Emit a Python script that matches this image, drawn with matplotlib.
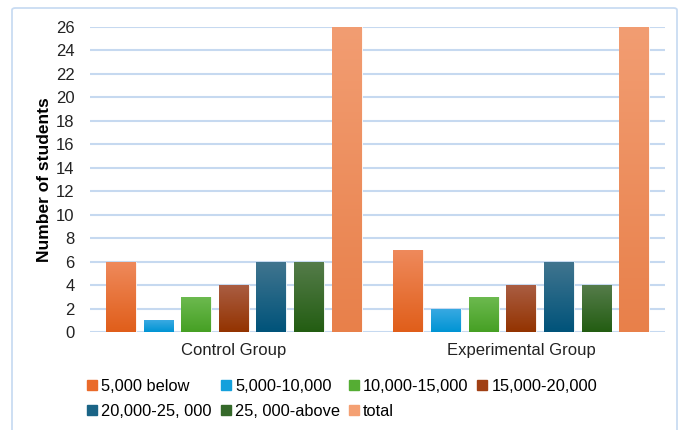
import numpy as np
import matplotlib
matplotlib.use("Agg")
import matplotlib.pyplot as plt
from matplotlib.colors import LinearSegmentedColormap
from matplotlib.lines import Line2D
from matplotlib.patches import FancyBboxPatch

plt.rcParams['font.family'] = ['Liberation Sans', 'DejaVu Sans']

groups = ["Control Group", "Experimental Group"]
series = ["5,000 below", "5,000-10,000", "10,000-15,000", "15,000-20,000",
          "20,000-25, 000", "25, 000-above", "total"]
control = [6, 1, 3, 4, 6, 6, 26]
experimental = [7, 2, 3, 4, 6, 4, 26]
yticks = list(range(0, 27, 2))

# top / bottom shades of each series' gradient fill, plus the legend swatch colour
shades = [
    ("#ef8a5c", "#e05e1a", "#ea6a2a"),
    ("#3aaae2", "#0094d4", "#14a0dc"),
    ("#6dba50", "#46a024", "#55ad33"),
    ("#aa5d42", "#933300", "#a03f14"),
    ("#41758f", "#00537a", "#1a6486"),
    ("#557c4a", "#235d12", "#35692a"),
    ("#f29d72", "#e8804a", "#f4a073"),
]

fig = plt.figure(figsize=(6.83, 4.30), dpi=100)
fig.patch.set_facecolor("white")

# outer chart frame
frame = FancyBboxPatch((12 / 683, -0.05), 665 / 683, (430 - 8) / 430 + 0.05,
                       boxstyle="round,pad=0,rounding_size=0.005",
                       transform=fig.transFigure, facecolor="none",
                       edgecolor="#c9dcf2", linewidth=1.3)
fig.patches.append(frame)

ax = fig.add_axes([90 / 683, 1 - 332 / 430, 575 / 683, (332 - 27) / 430])

step = 0.1308
width = 0.104
x = np.arange(len(groups))
values = np.array([control, experimental])

for i, name in enumerate(series):
    pos = x + (i - 3) * step
    bars = ax.bar(pos, values[:, i], width=width, color=shades[i][2],
                  edgecolor="#ffffff", linewidth=0.6, zorder=3)
    cmap = LinearSegmentedColormap.from_list(name, [shades[i][1], shades[i][0]])
    for b in bars:
        x0, h = b.get_x(), b.get_height()
        grad = np.linspace(0, 1, 128).reshape(-1, 1)
        im = ax.imshow(grad, extent=[x0, x0 + b.get_width(), 0, h], origin="lower",
                       aspect="auto", cmap=cmap, zorder=3.5, interpolation="bicubic")
        im.set_clip_path(b)

ax.set_xlim(-0.5, 1.5)
ax.set_ylim(0, 26)
ax.set_yticks(yticks)
ax.set_xticks(x)
ax.set_xticklabels(groups, fontsize=12, color="#222222")
ax.tick_params(axis="both", length=0, labelsize=12, colors="#222222")
ax.tick_params(axis="y", pad=11)
ax.tick_params(axis="x", pad=8)
ax.yaxis.grid(True, color="#c6d9f0", linewidth=1.5, zorder=0)
ax.set_axisbelow(True)
for s in ax.spines.values():
    s.set_visible(False)
ax.set_ylabel("Number of students", fontsize=12.5, fontweight="bold")
ax.yaxis.set_label_coords(-0.066, 0.5)

handles = [Line2D([], [], linestyle="none", marker="s", markersize=6.5,
                  markerfacecolor=c[2], markeredgecolor=c[2]) for c in shades]
order = [0, 4, 1, 5, 2, 6, 3]
fig.legend([handles[k] for k in order], [series[k] for k in order],
           ncol=4, loc="upper left", bbox_to_anchor=(81 / 683, 1 - 372 / 430),
           frameon=False, fontsize=11.8, handlelength=0.6, handletextpad=0.25,
           columnspacing=0.55, labelspacing=0.62, borderaxespad=0)

fig.savefig("out.png", dpi=100, facecolor="white")
